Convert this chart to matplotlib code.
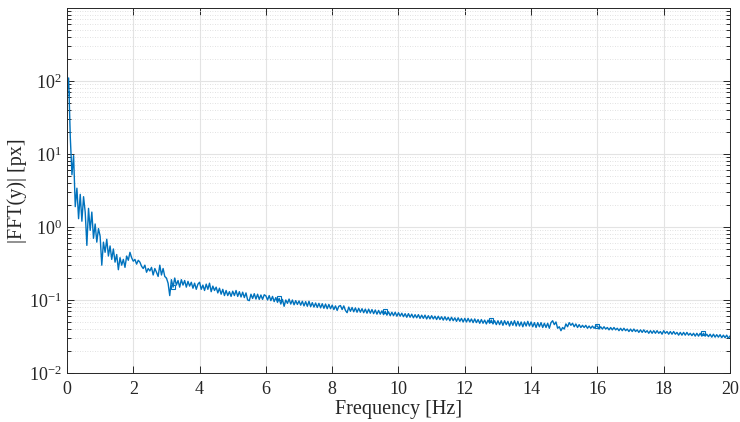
import numpy as np
import matplotlib
matplotlib.use("Agg")
import matplotlib.pyplot as plt
from matplotlib.ticker import LogLocator, NullFormatter

plt.rcParams['font.family'] = ['Liberation Serif', 'DejaVu Serif']
plt.rcParams['mathtext.fontset'] = 'custom'
plt.rcParams['mathtext.rm'] = 'Liberation Serif'
plt.rcParams['mathtext.it'] = 'Liberation Serif:italic'

# spectrum magnitude, one value every 0.05 Hz (0 .. 20 Hz)
df = 0.05
mag = [
    68, 110, 17, 5.2, 9.5, 1.9, 3.4, 1.3, 2.8, 1.2, 2.6, 1.6, 0.56, 1.8, 0.9, 1.6, 0.7, 1.1, 0.62, 0.95,
    0.75, 0.30, 0.62, 0.45, 0.68, 0.40, 0.55, 0.36, 0.50, 0.33, 0.42, 0.26, 0.38, 0.30, 0.36, 0.28, 0.40, 0.35, 0.45, 0.38,
    0.34, 0.36, 0.31, 0.35, 0.33, 0.29, 0.27, 0.30, 0.24, 0.27, 0.25, 0.28, 0.22, 0.27, 0.24, 0.21, 0.30, 0.22, 0.27, 0.21,
    0.20, 0.17, 0.115, 0.19, 0.15, 0.20, 0.16, 0.185, 0.15, 0.19, 0.16, 0.185, 0.15, 0.18, 0.155, 0.175, 0.145, 0.17, 0.14, 0.165,
    0.175, 0.14, 0.16, 0.135, 0.165, 0.14, 0.17, 0.13, 0.155, 0.135, 0.15, 0.125, 0.145, 0.12, 0.14, 0.115, 0.135, 0.115, 0.13, 0.112,
    0.132, 0.115, 0.135, 0.112, 0.13, 0.11, 0.128, 0.108, 0.125, 0.10, 0.098, 0.12, 0.105, 0.122, 0.103, 0.12, 0.102, 0.117, 0.102, 0.118,
    0.114, 0.10, 0.115, 0.098, 0.112, 0.095, 0.108, 0.093, 0.105, 0.088, 0.102, 0.082, 0.10, 0.09, 0.103, 0.088, 0.10, 0.086, 0.098, 0.087,
    0.097, 0.085, 0.096, 0.083, 0.095, 0.082, 0.096, 0.081, 0.092, 0.08, 0.091, 0.079, 0.09, 0.078, 0.089, 0.077, 0.088, 0.076, 0.087, 0.076,
    0.085, 0.074, 0.083, 0.072, 0.082, 0.084, 0.074, 0.083, 0.072, 0.067, 0.08, 0.07, 0.079, 0.069, 0.078, 0.068, 0.077, 0.068, 0.076, 0.067,
    0.075, 0.066, 0.075, 0.066, 0.074, 0.065, 0.073, 0.064, 0.072, 0.064, 0.071, 0.063, 0.07, 0.062, 0.069, 0.061, 0.068, 0.061, 0.068, 0.06,
    0.067, 0.06, 0.066, 0.059, 0.065, 0.058, 0.065, 0.058, 0.064, 0.057, 0.063, 0.057, 0.063, 0.056, 0.062, 0.056, 0.062, 0.055, 0.061, 0.055,
    0.061, 0.055, 0.06, 0.054, 0.06, 0.054, 0.059, 0.053, 0.059, 0.053, 0.058, 0.052, 0.058, 0.052, 0.057, 0.051, 0.057, 0.051, 0.056, 0.05,
    0.056, 0.05, 0.056, 0.05, 0.055, 0.049, 0.055, 0.049, 0.054, 0.048, 0.054, 0.048, 0.053, 0.047, 0.053, 0.048, 0.053, 0.047, 0.052, 0.046,
    0.052, 0.046, 0.052, 0.045, 0.052, 0.046, 0.051, 0.044, 0.051, 0.045, 0.052, 0.044, 0.051, 0.044, 0.05, 0.043, 0.05, 0.044, 0.051, 0.044,
    0.05, 0.043, 0.049, 0.042, 0.049, 0.043, 0.049, 0.042, 0.048, 0.042, 0.048, 0.041, 0.049, 0.052, 0.046, 0.05, 0.041, 0.043, 0.038, 0.042,
    0.04, 0.047, 0.043, 0.049, 0.045, 0.048, 0.043, 0.047, 0.042, 0.046, 0.042, 0.045, 0.042, 0.045, 0.041, 0.044, 0.041, 0.044, 0.041, 0.044,
    0.044, 0.04, 0.043, 0.04, 0.043, 0.04, 0.042, 0.039, 0.042, 0.039, 0.042, 0.039, 0.041, 0.038, 0.041, 0.038, 0.041, 0.038, 0.04, 0.037,
    0.04, 0.037, 0.04, 0.037, 0.039, 0.036, 0.039, 0.036, 0.039, 0.036, 0.038, 0.035, 0.038, 0.035, 0.038, 0.035, 0.038, 0.035, 0.037, 0.034,
    0.038, 0.035, 0.037, 0.034, 0.037, 0.034, 0.037, 0.034, 0.036, 0.033, 0.036, 0.033, 0.036, 0.033, 0.036, 0.033, 0.035, 0.0325, 0.035, 0.032,
    0.035, 0.032, 0.035, 0.032, 0.035, 0.032, 0.034, 0.0315, 0.034, 0.031, 0.034, 0.031, 0.0335, 0.031, 0.0335, 0.0305, 0.033, 0.0305, 0.033, 0.030,
    0.032,
]
freq = np.arange(len(mag)) * df

xticks = [0, 2, 4, 6, 8, 10, 12, 14, 16, 18, 20]
yticks = [1e-2, 1e-1, 1e0, 1e1, 1e2]

blue = '#0072BD'
dark = '#262626'

fig = plt.figure(figsize=(7.4, 4.22), dpi=100)
ax = fig.add_axes([0.0905, 0.1161, 0.896, 0.865])

ax.semilogy(freq, mag, color=blue, lw=1.0, marker='s', ms=3, mfc='none',
            mew=0.8, markevery=64)

ax.set_xlim(0, 20)
ax.set_ylim(1e-2, 1e3)
ax.set_xticks(xticks)
ax.set_yticks(yticks)
ax.yaxis.set_minor_locator(LogLocator(base=10, subs=np.arange(2, 10), numticks=20))
ax.yaxis.set_minor_formatter(NullFormatter())

ax.grid(True, which='major', color='#e3e3e3', lw=0.8, ls='-')
ax.grid(True, which='minor', axis='y', color='#d8d8d8', lw=0.6, ls=(0, (1, 2)))
ax.set_axisbelow(True)

ax.tick_params(which='both', direction='in', top=True, right=True,
               colors=dark, labelsize=13, width=0.7)
ax.tick_params(which='major', length=5)
ax.tick_params(axis='x', which='major', pad=6)
ax.tick_params(which='minor', length=3)
for s in ax.spines.values():
    s.set_color(dark)
    s.set_linewidth(0.7)

ax.set_xlabel('Frequency [Hz]', fontsize=14.5, color=dark, labelpad=1)
ax.set_ylabel('|FFT(y)| [px]', fontsize=14.5, color=dark, labelpad=2)

fig.savefig('out.png', dpi=100)
